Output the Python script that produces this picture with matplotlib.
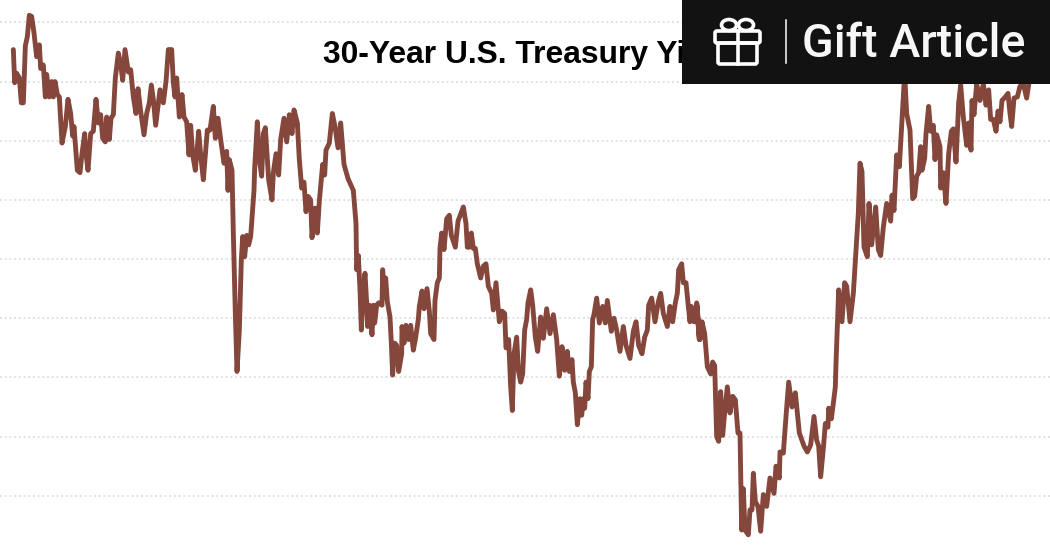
import matplotlib
matplotlib.use("Agg")
import matplotlib.pyplot as plt
from matplotlib.patches import Rectangle, Ellipse, FancyBboxPatch
import numpy as np

# Time is counted in reading steps, 135 steps to the year, in three stretches
steps_early = [40,44,50,58,64,70,76,82,88,95,102,110,118,122,130,136,140,148,155,160,165,172,178,186,196,204,212,218,222,232,240,246,254,258,264,272,280,288,295,302,308,316,320,328,333,340,346,355,362,368,375,385,392,400,408,414,422,432,440,448,454,460,467,474,480,490,498,505,515,520,525,530,538,546,552,560,567,572,578,586,596,602,610,622,630,640,646,654,662,672,680,684,688,696,700,706,711,718,724,728,734,740,746,752,762,764,772,778,785,790,796,806,816,820,828,836,842,852,860,868,876,882,892,898,905,912,918,924,932,936,945,952,958,968,974,978,988,997,1005,1014,1022,1032,1044]
yields_early = [5.27,4.99,5.07,5.03,4.82,4.82,5.30,5.38,5.56,5.55,5.41,5.21,5.31,5.11,5.14,4.87,5.06,4.87,5.00,4.87,5.00,4.89,4.87,4.48,4.62,4.85,4.73,4.54,4.62,4.25,4.23,4.39,4.56,4.39,4.25,4.56,4.58,4.85,4.65,4.72,4.52,4.49,4.70,4.51,4.69,4.72,5.03,5.24,5.15,5.01,5.27,5.08,5.10,4.87,4.73,4.94,4.75,4.55,4.73,4.82,4.97,4.85,4.63,4.79,4.93,4.82,5.00,5.27,5.27,4.99,4.87,5.03,4.70,4.89,4.70,4.66,4.38,4.63,4.38,4.25,4.58,4.38,4.17,4.59,4.59,4.79,4.52,4.69,4.51,4.31,4.41,4.08,4.34,4.25,3.72,3.04,2.55,2.90,3.49,3.69,3.52,3.70,3.62,3.69,4.08,4.27,4.66,4.34,4.20,4.56,4.61,4.17,4.00,4.23,4.39,4.21,4.51,4.69,4.49,4.72,4.56,4.76,4.65,4.34,4.10,4.15,3.90,4.03,4.00,3.68,3.93,3.72,3.99,4.30,4.21,4.42,4.48,4.73,4.62,4.44,4.65,4.30,4.18]

steps_middle = [10,18,20,25,30,34,40,45,50,53,58,66,70,74,80,86,96,98,104,107,112,120,124,128,134,140,146,155,156,162,168,176,182,190,196,205,208,216,222,231,238,242,252,255,262,268,270,275,282,290,298,304,316,324,340,348,352,358,364,370,376,382,392,400,408,415,425,430,438,448,456,464,468,476,482,487,492,500,505,512,518,524,530,534,542,548,556,563,572,580,590,600,610,620,628,636,644,652,658,666,670,676,682,690,695,700,704,708,714,718,724,728,732,740,748,758,766,772,784,792,800,810,820,828,840,850,858,866,876,884,892,896,905,915,925,932,940,952,960,968,976,982,986,995,1000,1008,1015,1020,1024,1032,1040,1048]
yields_middle = [4.08,3.80,3.41,3.53,3.24,2.90,3.24,3.38,3.13,2.93,3.11,2.86,3.11,2.96,3.11,3.13,3.11,3.41,3.18,3.34,3.14,3.01,2.79,2.52,2.79,2.77,2.55,2.70,2.93,2.79,2.94,2.82,2.94,2.73,2.82,2.99,3.10,3.23,3.08,3.25,3.06,2.87,2.82,3.15,3.30,3.34,3.59,3.72,3.58,3.84,3.87,3.70,3.60,3.82,3.94,3.80,3.60,3.60,3.72,3.59,3.59,3.46,3.34,3.44,3.46,3.27,3.21,3.07,3.30,2.97,3.06,3.04,2.75,2.82,2.42,2.22,2.70,2.84,2.56,2.46,2.53,2.90,2.99,3.13,3.24,3.11,2.84,2.72,3.01,2.83,3.08,2.87,3.03,2.82,2.51,2.76,2.56,2.72,2.55,2.65,2.46,2.37,2.10,2.32,2.18,2.32,2.24,2.46,2.32,2.55,2.59,2.99,3.03,3.17,2.96,3.10,2.96,3.15,2.89,3.00,2.90,2.72,2.93,2.77,2.66,2.89,2.97,2.77,2.70,2.84,2.90,3.11,3.17,2.97,3.14,3.21,3.04,2.93,3.10,2.97,3.13,3.21,3.41,3.46,3.30,3.30,3.10,2.97,3.10,2.97,3.11,2.82]

steps_late = [20,30,36,44,52,62,68,74,80,86,92,98,104,112,120,128,136,144,150,155,160,165,175,180,186,190,196,204,212,220,230,240,252,258,268,270,280,288,296,306,316,328,342,352,362,372,380,386,392,400,406,414,416,424,430,436,438,442,446,456,464,470,480,490,498,505,510,516,522,532,537,545,557,565,572,580,590,602,606,612,620,628,636,644,650,660,668,674,680,686,692,696,704,708,716,722,730,735,740,750,752,760,768,776,784,790,798,806,812,820,830,836,843,846,852,860,870,880,888,896,902,910,918,924,930,936,946,954,960,965,972,982,990,1000,1010,1018,1024]
yields_late = [3.13,2.82,2.97,2.87,2.59,2.53,2.63,2.60,2.00,1.96,2.38,2.01,2.20,2.42,2.20,2.34,2.31,2.03,2.03,1.21,1.56,1.21,1.17,1.38,1.38,1.69,1.45,1.41,1.20,1.51,1.41,1.65,1.52,1.75,1.65,1.87,1.86,2.17,2.46,2.25,2.37,2.03,1.92,1.87,1.93,2.17,1.97,1.92,1.66,1.90,2.11,2.08,2.24,2.15,2.28,2.42,2.62,2.93,3.24,2.97,3.30,3.27,2.97,3.21,3.58,3.89,4.31,4.24,3.60,3.52,3.97,3.62,3.94,3.58,3.53,3.77,3.97,3.82,4.04,3.91,4.38,4.28,4.68,5.07,4.73,4.59,4.01,4.03,4.20,4.23,4.45,4.25,4.35,4.56,4.79,4.58,4.63,4.34,4.55,4.45,4.10,4.23,3.97,4.39,4.58,4.60,4.32,4.82,4.97,4.70,4.46,4.65,4.42,4.84,4.72,4.98,4.84,4.98,4.80,4.93,4.68,4.68,4.58,4.75,4.66,4.84,4.87,4.90,4.73,4.62,4.86,4.87,4.96,4.98,4.86,5.01,5.04]

grid_levels = [1.5, 2.0, 2.5, 3.0, 3.5, 4.0, 4.5, 5.0, 5.5]
title = "30-Year U.S. Treasury Yields"
button_label = "Gift Article"

line_color = "#85473b"
dark = "#121212"

# Steps to years
steps = np.concatenate([np.array(steps_early), np.array(steps_middle) + 1050, np.array(steps_late) + 2070])
years = 2004 + (steps - 36) / 135
yields = yields_early + yields_middle + yields_late

fig = plt.figure(figsize=(10.5, 5.49), dpi=100)
ax = fig.add_axes([0, 0, 1, 1])
ax.plot(years, yields, color=line_color, linewidth=3.5, solid_joinstyle="round", solid_capstyle="round", zorder=3)

ax.set_xlim(2004 - 12 / 45, 2004 + 1038 / 45)
ax.set_ylim(1.05, 5.689)
ax.set_yticks(grid_levels)
ax.grid(axis="y", color="#e2e2e2", linewidth=1.44, linestyle=(0, (1, 1.35)))
ax.set_axisbelow(True)
ax.tick_params(left=False, bottom=False, labelleft=False, labelbottom=False)
for s in ax.spines.values():
    s.set_visible(False)

# Title and button sit on a layer counted in pixels
top = fig.add_axes([0, 0, 1, 1], facecolor="none")
top.set_xlim(0, 1050)
top.set_ylim(549, 0)
top.axis("off")

top.text(323, 55, title, fontsize=22.9, fontweight="bold", color="black", family="Liberation Sans", va="center", ha="left")

top.add_patch(Rectangle((682, 0), 368, 84, facecolor=dark, edgecolor="none", zorder=5))
top.plot([786, 786], [20, 63], color="white", linewidth=1.1, zorder=6)
top.text(802, 44, button_label, fontsize=33.6, fontweight="medium", color="#f7f7f7", family="Roboto", va="center", ha="left", zorder=6)

# Gift icon
white = dict(facecolor="none", edgecolor="white", linewidth=2.6, zorder=6)
top.add_patch(FancyBboxPatch((715, 31), 45, 12, boxstyle="round,pad=0,rounding_size=2", **white))
top.add_patch(FancyBboxPatch((718, 43), 39, 21, boxstyle="round,pad=0,rounding_size=2", **white))
top.plot([738, 738], [31, 64], color="white", linewidth=2.6, zorder=6)
top.add_patch(Ellipse((729, 25), 15, 11, **white))
top.add_patch(Ellipse((746, 25), 15, 11, **white))

fig.savefig("out.png", dpi=100)
